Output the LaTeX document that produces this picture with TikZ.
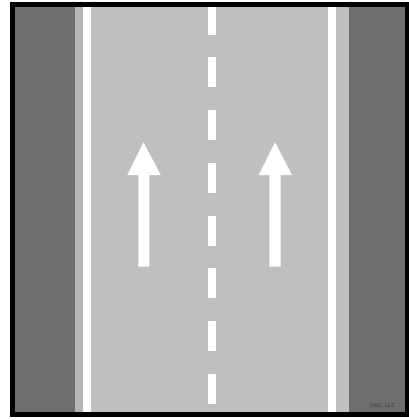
\documentclass[tikz,border=0pt]{standalone}
\begin{document}
\begin{tikzpicture}[x=1pt,y=-1pt,
  shoulder/.style={fill=black!57},
  roadbed/.style={fill=black!25},
  edgestrip/.style={fill=black!29},
  paint/.style={fill=white},
  frameline/.style={draw=black,line width=4.5pt}]
\useasboundingbox (0,0) rectangle (409,420);
\fill[white] (0,0) rectangle (409,420);
% shoulders
\fill[shoulder] (12,5) rectangle (75,414);
\fill[shoulder] (349,5) rectangle (406,414);
% road
\fill[roadbed] (75,5) rectangle (349,414);
\fill[edgestrip] (75,5) rectangle (83,414);
% edge lines
\fill[paint] (83,5) rectangle (90.7,414);
\fill[paint] (328.3,5) rectangle (336,414);
% centre dashes
\foreach \y in {4.6,57.3,110.3,163,215.7,268.3,321,374}
  \fill[paint] (208.3,\y) rectangle (216,\y+30);
% arrows
\fill[paint] (143.5,142.3) -- (160.7,175) -- (149.3,175) -- (149.3,266.7)
  -- (138.3,266.7) -- (138.3,175) -- (127.3,175) -- cycle;
\fill[paint] (275,142.3) -- (292,175) -- (280.7,175) -- (280.7,266.7)
  -- (269.3,266.7) -- (269.3,175) -- (258.7,175) -- cycle;
% frame
\draw[frameline] (12.25,4.5) rectangle (406.75,414.5);
\node[font=\sffamily\fontsize{5.5}{6}\selectfont,text=black!80,inner sep=0pt] (credit) at (383,405.5) {HSS, LLC};
\end{tikzpicture}
\end{document}
